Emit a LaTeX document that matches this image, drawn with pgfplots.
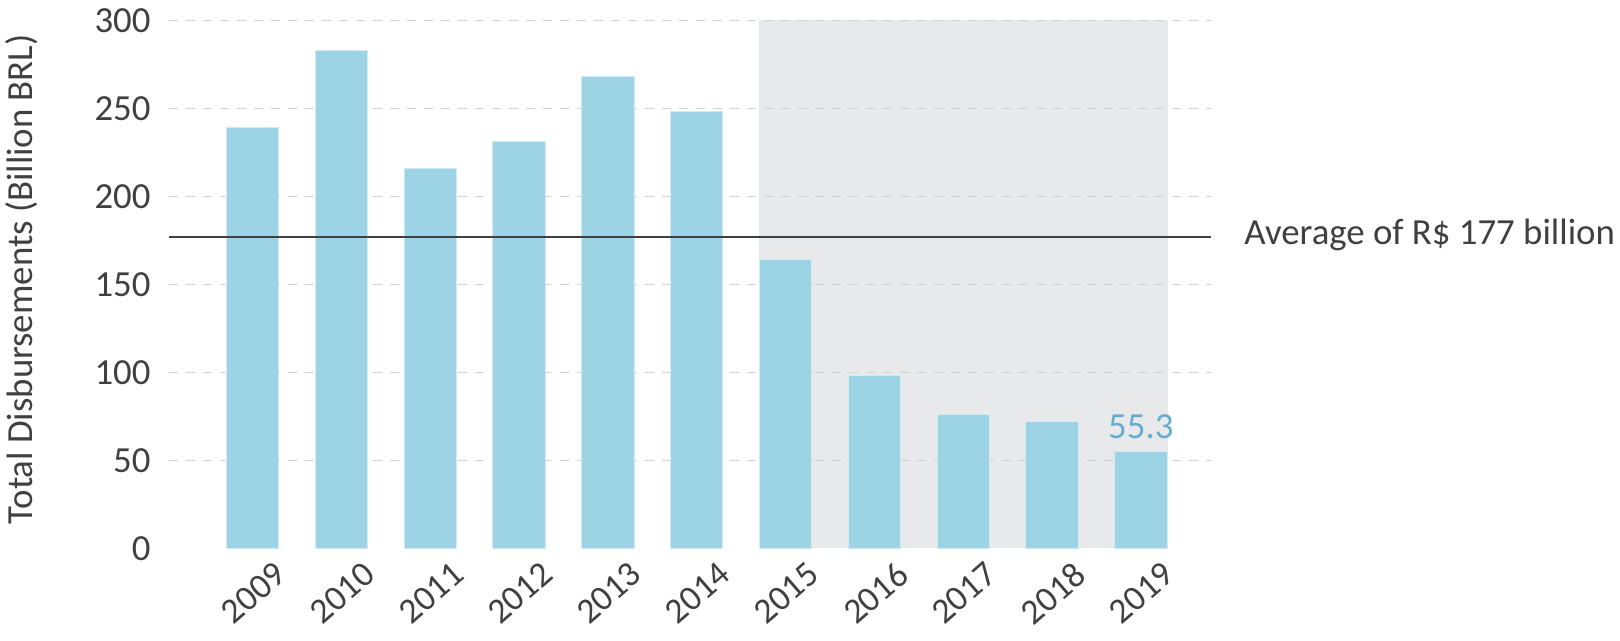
\documentclass[border=0pt]{standalone}
\usepackage{pgfplots}
\pgfplotsset{compat=1.18}
\usepackage{fontspec}
\setmainfont{Carlito}
\definecolor{barblue}{HTML}{9CD3E5}
\definecolor{shade}{HTML}{E8E9EB}
\definecolor{txt}{HTML}{404040}
\definecolor{gridc}{HTML}{D0D0D0}
\definecolor{lbl}{HTML}{65ADD0}
\newcommand{\fs}{\fontsize{18.4}{22}\selectfont}
\begin{document}
\begin{tikzpicture}
\begin{axis}[
  set layers,
  scale only axis,
  width=520.85pt, height=264.1pt,
  at={(0,0)}, anchor=south west,
  xmin=-0.939, xmax=10.79,
  ymin=0, ymax=300,
  axis line style={draw=none},
  major tick length=0pt,
  xtick={0,...,10},
  xticklabels={2009,2010,2011,2012,2013,2014,2015,2016,2017,2018,2019},
  ytick={50,100,...,300},
  extra y ticks={0},
  extra y tick style={grid=none},
  ymajorgrids,
  grid style={gridc, line width=0.65pt, dash pattern=on 4.3pt off 4.2pt},
  tick label style={font=\fs, text=txt},
  /pgf/number format/assume math mode=true,
  yticklabel style={inner sep=0pt, xshift=-9.2pt},
  xticklabel style={rotate=41, anchor=north east, inner sep=0pt, xshift=4pt, yshift=-11pt, font=\fontsize{17.8}{21}\selectfont},
  ylabel={Total Disbursements (Billion BRL)},
  ylabel style={font=\fs, text=txt, at={(axis description cs:0,0.51)}, anchor=center, yshift=73.65pt},
  clip=false,
]
\addplot[on layer=axis background, fill=shade, draw=none] coordinates {(5.70,0) (5.70,300) (10.30,300) (10.30,0)} -- cycle;
\addplot[ybar, bar width=0.59, fill=barblue, draw=barblue!45!white, line width=0.5pt] coordinates {
(0,239) (1,283) (2,216) (3,231) (4,268) (5,248) (6,164) (7,98) (8,76) (9,72) (10,55.3)};
\addplot[txt, line width=1pt] coordinates {(-0.939,177) (10.79,177)};
\node[anchor=base west, inner sep=0pt, font=\fs, text=txt, xshift=16.5pt, yshift=-3.8pt] at (axis cs:10.79,177) {Average of R\$ 177 billion};
\node[anchor=base, inner sep=0pt, font=\fs, text=lbl, yshift=6.3pt] at (axis cs:10,55.3) {55.3};
\end{axis}
\pgfresetboundingbox
\useasboundingbox (-84.65pt,-46.25pt) rectangle (725.35pt,274.25pt);
\end{tikzpicture}
\end{document}
